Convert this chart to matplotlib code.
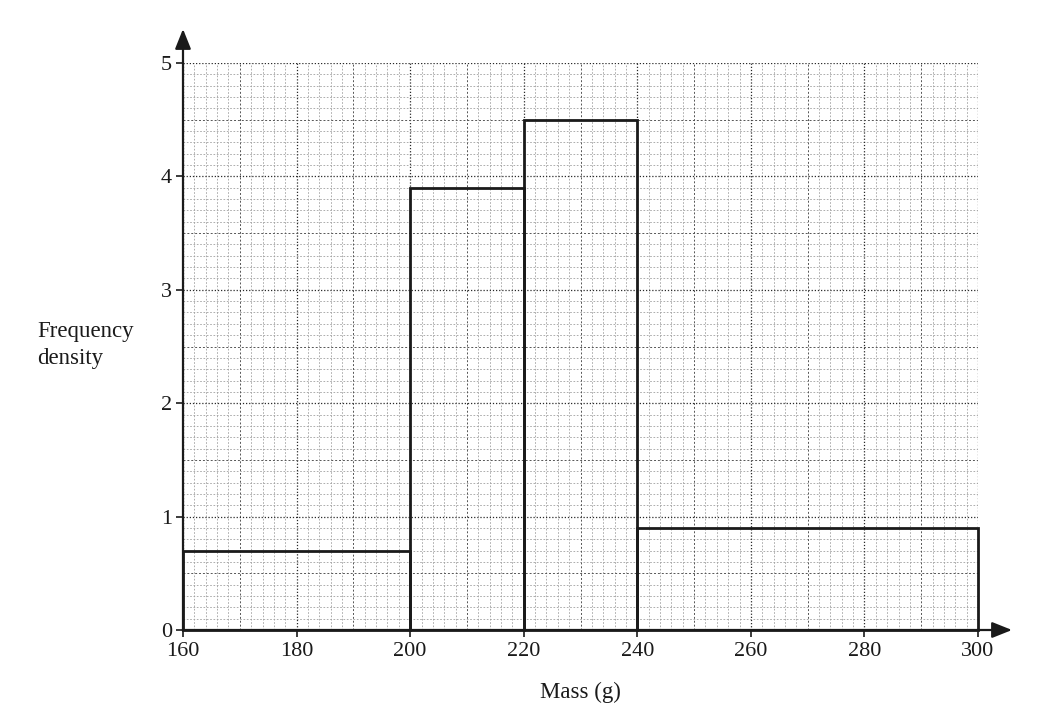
import numpy as np
import matplotlib.pyplot as plt

plt.rcParams['font.family'] = ['Liberation Serif', 'DejaVu Serif']

# class boundaries and frequency densities
bin_edges = [160, 200, 220, 240, 300]
freq_density = [0.7, 3.9, 4.5, 0.9]

x_ticks = [160, 180, 200, 220, 240, 260, 280, 300]
y_ticks = [0, 1, 2, 3, 4, 5]

fig = plt.figure(figsize=(10.55, 7.28), dpi=100)
ax = fig.add_axes([183/1055, 1 - 630/728, 795/1055, 567/728])

# graph paper grid
for xv in np.arange(160, 301, 2):
    if xv % 20 == 0:
        ax.axvline(xv, color='#2a2a2a', lw=0.9, ls=(0, (1, 1.5)), zorder=1)
    elif xv % 10 == 0:
        ax.axvline(xv, color='#555555', lw=0.7, ls=(0, (2, 2)), zorder=1)
    else:
        ax.axvline(xv, color='#a0a0a0', lw=0.6, ls=(0, (2, 2)), zorder=0.5)
for yv in np.round(np.arange(0, 5.01, 0.1), 1):
    if abs(yv - round(yv)) < 1e-9:
        ax.axhline(yv, color='#2a2a2a', lw=0.9, ls=(0, (1, 1.5)), zorder=1)
    elif abs(yv * 2 - round(yv * 2)) < 1e-9:
        ax.axhline(yv, color='#555555', lw=0.7, ls=(0, (2, 2)), zorder=1)
    else:
        ax.axhline(yv, color='#a0a0a0', lw=0.6, ls=(0, (2, 2)), zorder=0.5)

widths = np.diff(bin_edges)
bars = ax.bar(bin_edges[:-1], freq_density, width=widths, align='edge',
              fill=False, edgecolor='#1a1a1a', linewidth=2.0, zorder=3)
for b in bars:
    b.set_clip_on(False)

ax.set_xlim(160, 300)
ax.set_ylim(0, 5)
ax.set_xticks(x_ticks)
ax.set_yticks(y_ticks)
ax.tick_params(axis='both', labelsize=16, length=5, width=1.2, colors='#1a1a1a')
ax.tick_params(axis='x', pad=4)
ax.tick_params(axis='y', pad=3)

for s in ['top', 'right']:
    ax.spines[s].set_visible(False)
for s in ['left', 'bottom']:
    ax.spines[s].set_linewidth(1.6)
    ax.spines[s].set_color('#1a1a1a')
    ax.spines[s].set_zorder(4)

# axis arrows
arrow_style = '-|>,head_length=0.55,head_width=0.22'
ax.annotate('', xy=(183/1055, 1 - 29/728), xytext=(183/1055, 1 - 62/728),
            xycoords='figure fraction',
            arrowprops=dict(arrowstyle=arrow_style, color='#1a1a1a', lw=1.6,
                            mutation_scale=22, shrinkA=0, shrinkB=0))
ax.annotate('', xy=(1012/1055, 1 - 630/728), xytext=(977/1055, 1 - 630/728),
            xycoords='figure fraction',
            arrowprops=dict(arrowstyle=arrow_style, color='#1a1a1a', lw=1.6,
                            mutation_scale=22, shrinkA=0, shrinkB=0))

fig.text(37/1055, 1 - 345/728, 'Frequency\ndensity', fontsize=16.5,
         ha='left', va='center', linespacing=1.35, color='#1a1a1a')
fig.text(580/1055, 1 - 692/728, 'Mass (g)', fontsize=16.5,
         ha='center', va='center', color='#1a1a1a')

fig.savefig('out.png', dpi=100)
